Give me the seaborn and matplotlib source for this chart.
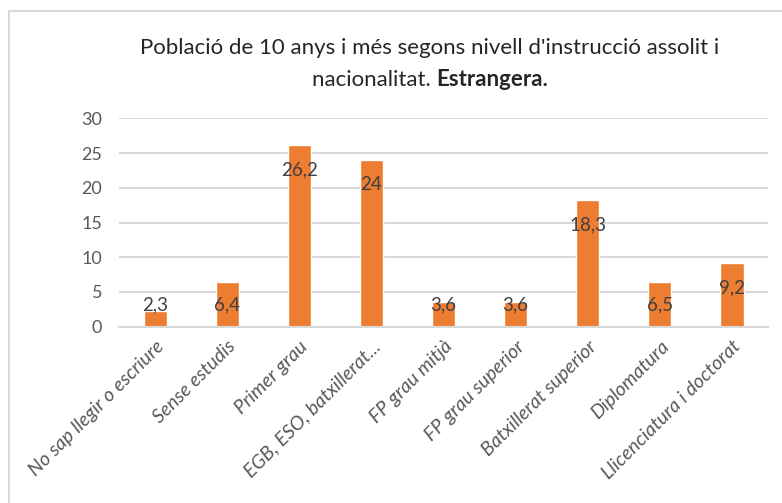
import matplotlib.pyplot as plt
import seaborn as sns
from matplotlib.lines import Line2D

categories = ['No sap llegir o escriure', 'Sense estudis', 'Primer grau',
              'EGB, ESO, batxillerat...', 'FP grau mitjà', 'FP grau superior',
              'Batxillerat superior', 'Diplomatura', 'Llicenciatura i doctorat']
values = [2.3, 6.4, 26.2, 24, 3.6, 3.6, 18.3, 6.5, 9.2]
value_labels = ['2,3', '6,4', '26,2', '24', '3,6', '3,6', '18,3', '6,5', '9,2']

sns.set_style('white')
plt.rcParams['font.family'] = ['Lato', 'DejaVu Sans']

fig = plt.figure(figsize=(7.82, 5.03), dpi=100)
ax = fig.add_axes([0.1522, 0.3505, 0.830, 0.4143])

sns.barplot(x=categories, y=values, color='#ED7D31', saturation=1, width=0.32, ax=ax)

ax.set_ylim(0, 30)
ax.set_yticks(range(0, 31, 5))
ax.set_xlim(-0.5, len(categories) - 0.5)
ax.yaxis.grid(True, color='#d9d9d9', linewidth=1.5)
ax.set_axisbelow(True)
for s in ['top', 'right', 'left']:
    ax.spines[s].set_visible(False)
ax.spines['bottom'].set_color('#d9d9d9')
ax.spines['bottom'].set_linewidth(1.5)
ax.tick_params(axis='both', length=0)
ax.tick_params(axis='y', labelsize=13, labelcolor='#595959', pad=12)
ax.set_xlabel('')
ax.set_ylabel('')

ax.set_xticks(range(len(categories)))
ax.set_xticklabels(categories, rotation=45, ha='right', va='top',
                   rotation_mode='anchor', fontsize=14, color='#595959',
                   style='italic')
for lab in ax.get_xticklabels():
    lab.set_y(-0.03)

# data labels, inside end
for i, (v, t) in enumerate(zip(values, value_labels)):
    ax.text(i, max(v - 3.6, 3.1), t, ha='center', va='center',
            fontsize=13.5, color='#404040')

# title
fig.text(430 / 782, 1 - 48 / 503, "Població de 10 anys i més segons nivell d'instrucció assolit i",
         ha='center', va='center', fontsize=16, color='#262626')
t1 = fig.text(0.5, 1 - 80 / 503, 'nacionalitat. ', ha='right', va='center',
              fontsize=16, color='#262626')
t2 = fig.text(0.5, 1 - 80 / 503, 'Estrangera.', ha='left', va='center',
              fontsize=16, color='#262626', fontweight='bold')
fig.canvas.draw()
r = fig.canvas.get_renderer()
w1 = t1.get_window_extent(r).width / fig.bbox.width
w2 = t2.get_window_extent(r).width / fig.bbox.width
cx = 430 / 782
t1.set_x(cx - (w1 + w2) / 2 + w1)
t2.set_x(cx - (w1 + w2) / 2 + w1)

# chart frame (top and left edges visible)
fig.add_artist(Line2D([9 / 782, 1], [1 - 11 / 503] * 2, color='#d9d9d9', linewidth=1.5,
                      transform=fig.transFigure))
fig.add_artist(Line2D([9 / 782] * 2, [0, 1 - 11 / 503], color='#d9d9d9', linewidth=1.5,
                      transform=fig.transFigure))

fig.savefig('out.png', dpi=100)
